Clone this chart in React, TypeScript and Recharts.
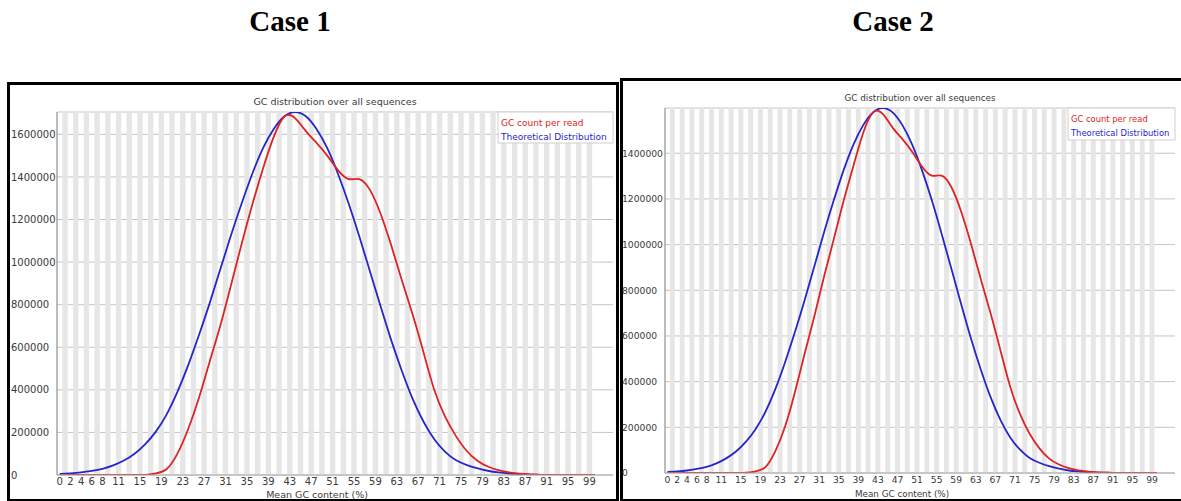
import React from 'react';
import { LineChart, Line, XAxis, YAxis, CartesianGrid, ReferenceArea } from 'recharts';

// GC content (%) sampled every 2 points; both panels share it
const GC = [
  0, 2, 4, 6, 8, 10, 12, 14, 16, 18, 20, 22, 24, 26, 28, 30, 32, 34, 36, 38, 40, 42, 44, 46, 48, 50,
  52, 54, 56, 58, 60, 62, 64, 66, 68, 70, 72, 74, 76, 78, 80, 82, 84, 86, 88, 90, 92, 94, 96, 98, 100,
];

// every category 0..100, odd ones get the grey background stripe
const CATEGORIES = Array.from({ length: 101 }, (_, i) => i);

const CASE1_READ = [
  0, 0, 0, 0, 0, 0, 0, 0, 1000, 8000, 28000, 100000, 215000, 360000, 530000, 700000, 890000,
  1085000, 1270000, 1440000, 1588000, 1684000, 1676000, 1615000, 1560000, 1500000, 1432000,
  1390000, 1390000, 1338000, 1225000, 1075000, 910000, 750000, 575000, 400000, 275000, 185000,
  115000, 68000, 40000, 23000, 12000, 6000, 3000, 1000, 0, 0, 0, 0, 0,
];
const CASE1_THEO = [
  5000, 8000, 12000, 19000, 29000, 45000, 68000, 100000, 145000, 205000, 285000, 390000, 515000,
  655000, 805000, 965000, 1125000, 1275000, 1415000, 1535000, 1625000, 1685000, 1705000, 1685000,
  1625000, 1535000, 1415000, 1275000, 1120000, 955000, 790000, 630000, 485000, 355000, 250000,
  168000, 110000, 70000, 48000, 32000, 20000, 12000, 7000, 4000, 2000, 1000, 0, 0, 0, 0, 0,
];
const CASE2_READ = [
  0, 0, 0, 0, 0, 0, 0, 0, 1000, 7000, 26000, 94000, 201000, 350000, 520000, 685000, 860000,
  1025000, 1192000, 1345000, 1490000, 1578000, 1572000, 1512000, 1462000, 1406000, 1342000,
  1302000, 1302000, 1252000, 1145000, 1005000, 850000, 700000, 540000, 380000, 260000, 172000,
  108000, 63000, 37000, 21000, 11000, 6000, 3000, 1000, 0, 0, 0, 0, 0,
];
const CASE2_THEO = [
  5000, 7000, 11000, 18000, 27000, 42000, 64000, 94000, 136000, 192000, 267000, 365000, 483000,
  614000, 754000, 904000, 1054000, 1195000, 1326000, 1438000, 1523000, 1579000, 1598000, 1579000,
  1523000, 1438000, 1326000, 1195000, 1049000, 895000, 740000, 590000, 454000, 333000, 234000,
  157000, 103000, 66000, 45000, 30000, 19000, 11000, 7000, 4000, 2000, 1000, 0, 0, 0, 0, 0,
];

const X_TICKS = [0, 2, 4, 6, 8, 11, 15, 19, 23, 27, 31, 35, 39, 43, 47, 51, 55, 59, 63, 67, 71, 75, 79, 83, 87, 91, 95, 99];
const CASE1_Y_TICKS = [0, 200000, 400000, 600000, 800000, 1000000, 1200000, 1400000, 1600000];
const CASE2_Y_TICKS = [0, 200000, 400000, 600000, 800000, 1000000, 1200000, 1400000];

const TITLE = 'GC distribution over all sequences';
const X_LABEL = 'Mean GC content (%)';
const LEGEND = ['GC count per read', 'Theoretical Distribution'];

const FONT = '"DejaVu Sans", Verdana, sans-serif';
const RED = '#dc2424';
const BLUE = '#2626c8';
const TEXT = '#3a3a3a';

function YTick(props: any) {
  const { y, payload, labelX, fontSize } = props;
  return (
    <text x={labelX} y={y} dy={fontSize * 0.36} fontSize={fontSize} fill={TEXT} fontFamily={FONT}>
      {payload.value}
    </text>
  );
}

function XTick(props: any) {
  const { x, y, payload, fontSize, offset } = props;
  return (
    <text x={x} y={y} dy={offset + fontSize * 0.36} fontSize={fontSize} fill={TEXT} fontFamily={FONT} textAnchor="middle">
      {payload.value}
    </text>
  );
}

interface PanelProps {
  read: number[];
  theo: number[];
  yMax: number;
  yTicks: number[];
  xMax: number;
  left: number;
  width: number;
  margin: { top: number; right: number; bottom: number; left: number };
  yAxisWidth: number;
  xAxisHeight: number;
  labelX: number;
  fontSize: number;
  xTickOffset: number;
}

function GcPanel(p: PanelProps) {
  const rows = GC.map((g, i) => ({ gc: g, read: p.read[i], theo: p.theo[i] }));
  return (
    <div style={{ position: 'absolute', left: p.left, top: 0 }}>
      <LineChart width={p.width} height={501} data={rows} margin={p.margin}>
        {CATEGORIES.filter((c) => c % 2 === 1).map((c) => (
          <ReferenceArea key={c} x1={c - 0.5} x2={c + 0.5} y1={0} y2={p.yMax} fill="#e6e6e6" fillOpacity={1} stroke="none" />
        ))}
        <CartesianGrid vertical={false} stroke="#c4c4c4" />
        <XAxis
          type="number"
          dataKey="gc"
          domain={[-0.5, p.xMax]}
          allowDataOverflow
          ticks={X_TICKS}
          interval={0}
          height={p.xAxisHeight}
          tickLine={false}
          tickSize={0}
          tickMargin={0}
          axisLine={{ stroke: '#aaaaaa' }}
          tick={(t: any) => <XTick {...t} fontSize={p.fontSize} offset={p.xTickOffset} />}
        />
        <YAxis
          type="number"
          domain={[0, p.yMax]}
          allowDataOverflow
          ticks={p.yTicks}
          interval={0}
          width={p.yAxisWidth}
          tickLine={false}
          tickSize={0}
          axisLine={{ stroke: '#7a7a7a' }}
          tick={(t: any) => <YTick {...t} labelX={p.labelX} fontSize={p.fontSize} />}
        />
        <Line type="natural" dataKey="theo" stroke={BLUE} strokeWidth={1.8} dot={false} isAnimationActive={false} />
        <Line type="natural" dataKey="read" stroke={RED} strokeWidth={1.8} dot={false} isAnimationActive={false} />
      </LineChart>
    </div>
  );
}

export default function App() {
  return (
    <div style={{ position: 'absolute', left: 0, top: 0, width: 1181, height: 501, overflow: 'hidden', background: '#fff' }}>
      <div style={{ position: 'absolute', left: 7, top: 82, width: 612, height: 420, border: '3px solid #000', boxSizing: 'border-box' }} />
      <div style={{ position: 'absolute', left: 620, top: 78, width: 570, height: 424, border: '3px solid #000', boxSizing: 'border-box' }} />

      <GcPanel
        read={CASE1_READ}
        theo={CASE1_THEO}
        yMax={1705000}
        yTicks={CASE1_Y_TICKS}
        xMax={103.4}
        left={0}
        width={620}
        margin={{ top: 112, right: 7, bottom: 0, left: 10 }}
        yAxisWidth={47}
        xAxisHeight={26}
        labelX={11}
        fontSize={10}
        xTickOffset={6}
      />
      <GcPanel
        read={CASE2_READ}
        theo={CASE2_THEO}
        yMax={1598000}
        yTicks={CASE2_Y_TICKS}
        xMax={103.7}
        left={620}
        width={561}
        margin={{ top: 108, right: 6, bottom: 0, left: 3 }}
        yAxisWidth={42}
        xAxisHeight={28}
        labelX={2}
        fontSize={9.2}
        xTickOffset={7}
      />

      <svg width={1181} height={501} style={{ position: 'absolute', left: 0, top: 0, pointerEvents: 'none' }}>
        <text x={290} y={31} textAnchor="middle" fontFamily='"Liberation Serif", "Times New Roman", serif' fontWeight="bold" fontSize={29} fill="#000">Case 1</text>
        <text x={893} y={31} textAnchor="middle" fontFamily='"Liberation Serif", "Times New Roman", serif' fontWeight="bold" fontSize={29} fill="#000">Case 2</text>

        <text x={335} y={104.5} textAnchor="middle" fontFamily={FONT} fontSize={9.5} fill={TEXT}>{TITLE}</text>
        <text x={920} y={101} textAnchor="middle" fontFamily={FONT} fontSize={8.8} fill={TEXT}>{TITLE}</text>

        <text x={317} y={497.5} textAnchor="middle" fontFamily={FONT} fontSize={9.5} fill={TEXT}>{X_LABEL}</text>
        <text x={902} y={496.5} textAnchor="middle" fontFamily={FONT} fontSize={8.8} fill={TEXT}>{X_LABEL}</text>

        <rect x={498} y={112} width={115} height={31} fill="#fff" stroke="#cfcfcf" />
        <text x={501} y={126} fontFamily={FONT} fontSize={9} fill={RED}>{LEGEND[0]}</text>
        <text x={501} y={140} fontFamily={FONT} fontSize={9} fill={BLUE}>{LEGEND[1]}</text>

        <rect x={1068} y={108} width={107} height={32} fill="#fff" stroke="#cfcfcf" />
        <text x={1071} y={122} fontFamily={FONT} fontSize={8.4} fill={RED}>{LEGEND[0]}</text>
        <text x={1071} y={136} fontFamily={FONT} fontSize={8.4} fill={BLUE}>{LEGEND[1]}</text>
      </svg>
    </div>
  );
}
